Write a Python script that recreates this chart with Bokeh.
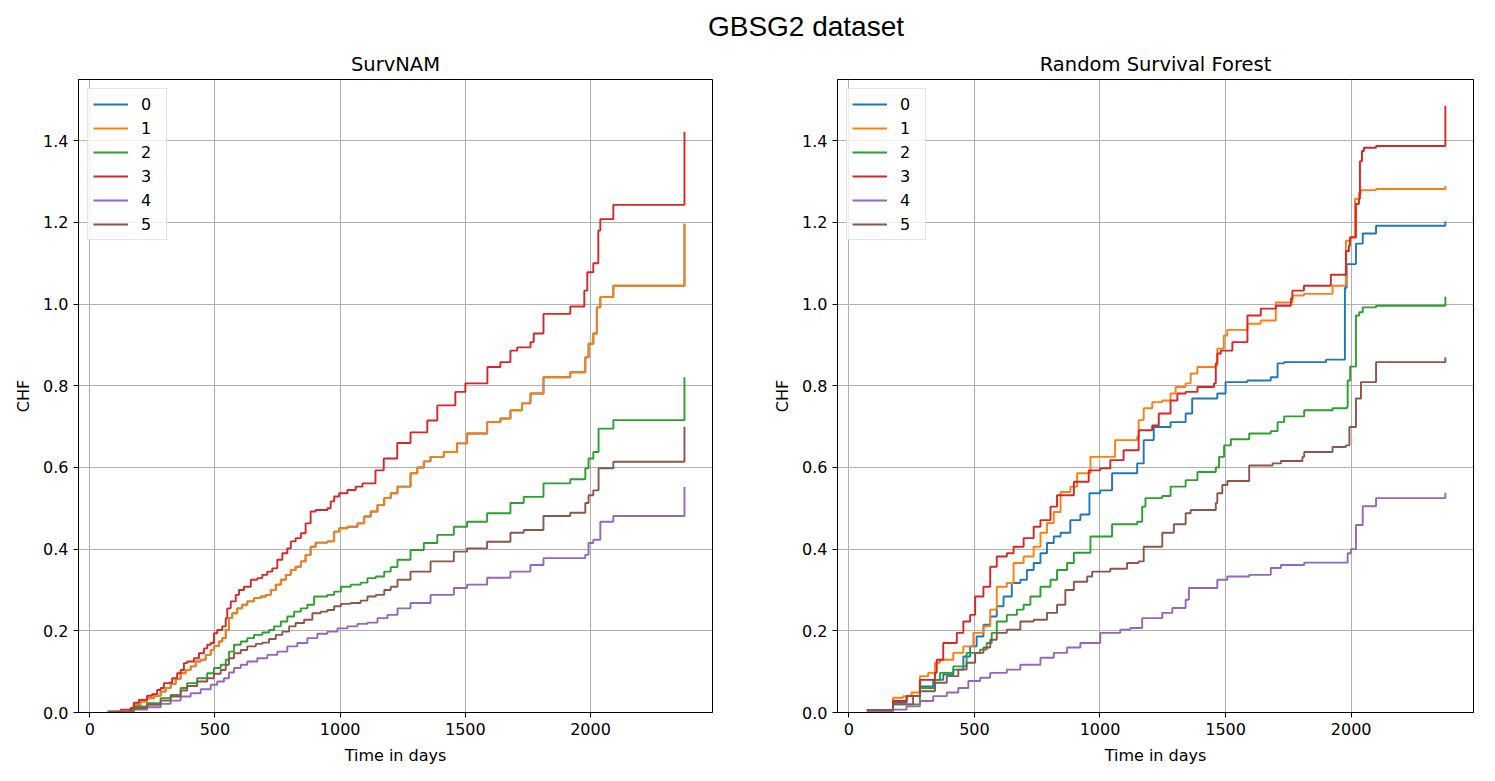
from bokeh.plotting import figure
from bokeh.models import Range1d, FixedTicker, NumeralTickFormatter, Div, Legend, LegendItem
from bokeh.layouts import column, row
from bokeh.embed import file_html
from bokeh.resources import INLINE

# ---------------- data ----------------
labels = ["0", "1", "2", "3", "4", "5"]
colors = ["#1f77b4", "#ff7f0e", "#2ca02c", "#d62728", "#9467bd", "#8c564b"]
x_ticks = [0, 500, 1000, 1500, 2000]
y_ticks = [0.0, 0.2, 0.4, 0.6, 0.8, 1.0, 1.2, 1.4]

# SurvNAM (series 0 lies exactly under series 1)
nam_t_1 = [72, 163, 176, 203, 229, 256, 283, 303, 323, 343, 363, 383, 403, 423, 443, 463, 483, 496, 516, 529,
           543, 556, 569, 589, 609, 629, 656, 683, 703, 723, 743, 763, 783, 803, 822, 843, 862, 882, 902, 949,
           976, 996, 1029, 1069, 1096, 1122, 1149, 1176, 1202, 1229,
           1281, 1308, 1334, 1361, 1414, 1467, 1507, 1587, 1640, 1680, 1726, 1760, 1812, 1919, 1979, 1992, 2011,
           2025, 2039, 2091, 2375]
nam_chf_1 = [0.002, 0.008, 0.019, 0.027, 0.035, 0.041, 0.051, 0.06, 0.07, 0.082, 0.096, 0.104, 0.113, 0.125, 0.129,
             0.141, 0.153, 0.163, 0.174, 0.182, 0.202, 0.231, 0.243, 0.255, 0.264, 0.272, 0.28, 0.284, 0.288, 0.30,
             0.313, 0.325, 0.337, 0.349, 0.357, 0.37, 0.386, 0.406, 0.416, 0.419, 0.443, 0.451, 0.455, 0.463, 0.48,
             0.492, 0.508, 0.525, 0.537, 0.553,
             0.586, 0.60, 0.615, 0.626, 0.638, 0.659, 0.683, 0.711, 0.72, 0.74, 0.757, 0.781, 0.821, 0.833, 0.87,
             0.903, 0.928, 0.992, 1.017, 1.045, 1.197]
nam_t_0 = list(nam_t_1)
nam_chf_0 = list(nam_chf_1)
nam_t_2 = [72, 163, 176, 229, 283, 323, 363, 389, 429, 469, 496, 523, 543, 556, 576, 603, 629, 656, 689, 716,
           736, 763, 789, 816, 843, 869, 896, 949, 976, 1003, 1042, 1082, 1109, 1142, 1176, 1202, 1229,
           1281, 1334, 1388, 1454, 1507, 1587, 1680, 1733, 1812, 1919, 1979, 1992, 2011, 2032, 2091, 2375]
nam_chf_2 = [0.002, 0.007, 0.015, 0.023, 0.035, 0.043, 0.06, 0.072, 0.084, 0.096, 0.109, 0.117, 0.129, 0.149, 0.166,
             0.174, 0.182, 0.19, 0.196, 0.202, 0.211, 0.223, 0.235, 0.247, 0.255, 0.264, 0.284, 0.288, 0.296, 0.308,
             0.313, 0.318, 0.329, 0.333, 0.345, 0.356, 0.374,
             0.398, 0.415, 0.435, 0.455, 0.467, 0.488, 0.513, 0.528, 0.561, 0.571, 0.598, 0.622, 0.638, 0.695,
             0.716, 0.821]
nam_t_3 = [72, 123, 163, 176, 196, 229, 249, 269, 283, 296, 316, 329, 349, 363, 376, 389, 416, 436, 456, 469,
           483, 496, 509, 529, 543, 549, 563, 583, 596, 616, 643, 669, 689, 709, 729, 749, 769, 789, 803, 822,
           843, 862, 882, 902, 949, 962, 976, 996, 1029, 1062, 1089,
           1141, 1174, 1228, 1281, 1348, 1388, 1460, 1500, 1588, 1640, 1680, 1707, 1760, 1773, 1812, 1919, 1975,
           1987, 2011, 2031, 2039, 2091, 2375]
nam_chf_3 = [0.002, 0.007, 0.011, 0.024, 0.031, 0.041, 0.045, 0.055, 0.06, 0.072, 0.073, 0.084, 0.096, 0.104, 0.121,
             0.125, 0.133, 0.145, 0.157, 0.166, 0.17, 0.194, 0.202, 0.211, 0.231, 0.255, 0.272, 0.288, 0.30, 0.308,
             0.325, 0.329, 0.337, 0.345, 0.353, 0.374, 0.39, 0.402, 0.419, 0.427, 0.439, 0.463, 0.492, 0.496, 0.50,
             0.517, 0.529, 0.537, 0.545, 0.553, 0.561,
             0.593, 0.622, 0.66, 0.686, 0.715, 0.752, 0.785, 0.806, 0.846, 0.858, 0.886, 0.894, 0.907, 0.928, 0.976,
             0.994, 1.033, 1.078, 1.10, 1.18, 1.208, 1.243, 1.422]
nam_t_4 = [72, 163, 176, 229, 283, 323, 363, 403, 443, 483, 509, 536, 556, 576, 603, 629, 669, 709, 749, 789,
           829, 869, 909, 949, 989, 1029, 1069, 1109, 1149, 1189, 1229,
           1281, 1361, 1454, 1507, 1587, 1680, 1760, 1812, 1979, 1992, 2011, 2039, 2091, 2375]
nam_chf_4 = [0.0, 0.002, 0.007, 0.013, 0.021, 0.029, 0.039, 0.047, 0.057, 0.068, 0.076, 0.084, 0.098, 0.109, 0.117,
             0.125, 0.133, 0.141, 0.149, 0.162, 0.17, 0.182, 0.193, 0.198, 0.206, 0.211, 0.217, 0.22, 0.231, 0.239,
             0.255,
             0.268, 0.288, 0.305, 0.313, 0.33, 0.345, 0.361, 0.378, 0.386, 0.415, 0.423, 0.467, 0.481, 0.552]
nam_t_5 = [72, 163, 176, 229, 283, 323, 363, 389, 429, 469, 496, 523, 543, 556, 576, 603, 629, 663, 689, 716,
           743, 769, 796, 822, 856, 889, 922, 949, 976, 1003, 1042, 1082, 1109, 1142, 1176, 1202, 1229,
           1281, 1361, 1454, 1507, 1587, 1680, 1733, 1812, 1919, 1979, 1992, 2011, 2032, 2091, 2375]
nam_chf_5 = [0.001, 0.005, 0.011, 0.019, 0.029, 0.039, 0.054, 0.065, 0.076, 0.084, 0.095, 0.104, 0.117, 0.133, 0.145,
             0.153, 0.162, 0.168, 0.171, 0.18, 0.19, 0.198, 0.211, 0.219, 0.227, 0.243, 0.247, 0.251, 0.26, 0.266,
             0.268, 0.274, 0.284, 0.288, 0.30, 0.308, 0.325,
             0.345, 0.37, 0.394, 0.402, 0.418, 0.44, 0.447, 0.481, 0.489, 0.513, 0.532, 0.544, 0.598, 0.614, 0.70]

# Random Survival Forest
rsf_t_0 = [72, 176, 230, 283, 336, 376, 416, 456, 483, 509, 536, 563, 589, 616, 649, 683, 709, 736, 763, 789,
           816, 843, 882, 922, 958, 1001, 1048, 1148, 1174, 1214, 1281, 1341, 1367, 1467, 1500, 1587, 1680, 1707, 1733,
           1900, 1975, 1982, 2019, 2046, 2099, 2375]
rsf_chf_0 = [0.006, 0.024, 0.04, 0.064, 0.08, 0.093, 0.105, 0.137, 0.162, 0.186, 0.215, 0.235, 0.26, 0.284, 0.317,
             0.325, 0.349, 0.366, 0.39, 0.415, 0.431, 0.44, 0.471, 0.485, 0.537, 0.544, 0.586, 0.61, 0.667, 0.699,
             0.711, 0.732, 0.769, 0.781, 0.809, 0.813, 0.821, 0.855, 0.858, 0.864, 1.04, 1.098, 1.148, 1.173, 1.192,
             1.202]
rsf_t_1 = [72, 176, 216, 250, 283, 316, 343, 363, 416, 456, 496, 536, 563, 589, 629, 656, 696, 736, 763, 789,
           816, 843, 882, 909, 962, 1060, 1148, 1154, 1174, 1208, 1248, 1281, 1301, 1341, 1361, 1388, 1461, 1467, 1493,
           1507, 1587, 1640, 1700, 1766, 1812, 1926, 1979, 1999, 2015, 2031, 2039, 2099, 2375]
rsf_chf_1 = [0.006, 0.036, 0.04, 0.049, 0.089, 0.097, 0.122, 0.129, 0.146, 0.162, 0.195, 0.211, 0.252, 0.308, 0.317,
             0.366, 0.382, 0.406, 0.44, 0.464, 0.491, 0.54, 0.553, 0.586, 0.626, 0.667, 0.675, 0.716, 0.745, 0.76,
             0.764, 0.781, 0.797, 0.806, 0.83, 0.846, 0.85, 0.891, 0.923, 0.937, 0.952, 0.96, 1.004, 1.021, 1.025,
             1.045, 1.155, 1.165, 1.258, 1.273, 1.279, 1.282, 1.289]
rsf_t_2 = [72, 176, 283, 343, 363, 416, 469, 523, 549, 569, 589, 629, 669, 696, 723, 763, 803, 829, 869, 896,
           962, 1048, 1148, 1168, 1181, 1248, 1281, 1341, 1388, 1461, 1474, 1494, 1521, 1594, 1680, 1707, 1733, 1813,
           1926, 1983, 1986, 1996, 2019, 2032, 2046, 2099, 2375]
rsf_chf_2 = [0.006, 0.02, 0.06, 0.08, 0.097, 0.113, 0.146, 0.154, 0.17, 0.195, 0.223, 0.239, 0.252, 0.264, 0.284,
             0.308, 0.325, 0.349, 0.366, 0.391, 0.431, 0.461, 0.467, 0.504, 0.525, 0.53, 0.553, 0.569, 0.589, 0.60,
             0.626, 0.654, 0.669, 0.683, 0.689, 0.711, 0.725, 0.74, 0.745, 0.748, 0.813, 0.847, 0.972, 0.98, 0.992,
             0.996, 1.018]
rsf_t_3 = [72, 176, 230, 283, 343, 350, 376, 430, 456, 483, 503, 536, 563, 589, 629, 656, 696, 736, 763, 803,
           829, 896, 955, 1001, 1041, 1094, 1154, 1208, 1234, 1281, 1308, 1341, 1388, 1454, 1461, 1467, 1481, 1527,
           1587, 1640, 1700, 1760, 1766, 1812, 1919, 1979, 1991, 1995, 2019, 2031, 2035, 2043, 2051, 2099, 2375]
rsf_chf_3 = [0.006, 0.028, 0.04, 0.08, 0.097, 0.129, 0.17, 0.195, 0.223, 0.239, 0.284, 0.308, 0.357, 0.382, 0.39,
             0.406, 0.427, 0.455, 0.471, 0.504, 0.532, 0.565, 0.593, 0.598, 0.618, 0.642, 0.691, 0.703, 0.732, 0.764,
             0.781, 0.785, 0.797, 0.806, 0.855, 0.879, 0.886, 0.907, 0.972, 0.989, 0.996, 1.013, 1.033, 1.045, 1.072,
             1.13, 1.143, 1.163, 1.245, 1.258, 1.35, 1.375, 1.383, 1.387, 1.485]
rsf_t_4 = [72, 176, 230, 283, 336, 390, 436, 476, 523, 563, 629, 683, 763, 816, 869, 922, 1001, 1081, 1121, 1168,
           1248, 1288, 1341, 1354, 1467, 1507, 1594, 1680, 1720, 1813, 1986, 1999, 2019, 2046, 2099, 2375]
rsf_chf_4 = [0.003, 0.007, 0.015, 0.028, 0.04, 0.049, 0.06, 0.077, 0.085, 0.097, 0.105, 0.117, 0.134, 0.146, 0.159,
             0.17, 0.195, 0.203, 0.207, 0.231, 0.244, 0.256, 0.276, 0.305, 0.325, 0.333, 0.337, 0.354, 0.361, 0.367,
             0.39, 0.40, 0.459, 0.505, 0.525, 0.538]
rsf_t_5 = [72, 176, 256, 283, 343, 390, 436, 469, 503, 536, 563, 589, 629, 683, 736, 789, 829, 862, 896, 949,
           969, 1041, 1108, 1154, 1174, 1248, 1294, 1341, 1361, 1461, 1467, 1487, 1507, 1594, 1687, 1720, 1806, 1813,
           1926, 1979, 1993, 2019, 2039, 2099, 2375]
rsf_chf_5 = [0.006, 0.02, 0.04, 0.052, 0.073, 0.089, 0.105, 0.122, 0.146, 0.159, 0.178, 0.195, 0.203, 0.223, 0.227,
             0.244, 0.264, 0.30, 0.32, 0.333, 0.345, 0.352, 0.366, 0.37, 0.406, 0.44, 0.461, 0.488, 0.496, 0.513,
             0.537, 0.557, 0.567, 0.605, 0.61, 0.616, 0.626, 0.638, 0.65, 0.654, 0.699, 0.769, 0.809, 0.858, 0.87]

nam_series = [(nam_t_0, nam_chf_0), (nam_t_1, nam_chf_1), (nam_t_2, nam_chf_2),
              (nam_t_3, nam_chf_3), (nam_t_4, nam_chf_4), (nam_t_5, nam_chf_5)]
rsf_series = [(rsf_t_0, rsf_chf_0), (rsf_t_1, rsf_chf_1), (rsf_t_2, rsf_chf_2),
              (rsf_t_3, rsf_chf_3), (rsf_t_4, rsf_chf_4), (rsf_t_5, rsf_chf_5)]
for t, c in nam_series + rsf_series:
    assert len(t) == len(c), (len(t), len(c))

FONT = "DejaVu Sans"


def make(title, series, frame_w, mbl, mbr):
    p = figure(frame_width=frame_w, frame_height=633,
               x_range=Range1d(-45, 2487), y_range=Range1d(0, 1.55),
               output_backend="svg", toolbar_location=None,
               min_border_left=mbl, min_border_right=mbr,
               min_border_top=35, min_border_bottom=55)
    p.title.text = title
    p.title.align = "center"
    p.title.text_font = FONT
    p.title.text_font_size = "19.5px"
    p.title.text_font_style = "normal"
    p.title.text_color = "black"
    p.title.standoff = 7

    p.outline_line_color = "black"
    p.outline_line_width = 1
    p.outline_line_alpha = 1

    for g in (p.xgrid, p.ygrid):
        g.grid_line_color = "#b0b0b0"
        g.grid_line_width = 1.1

    p.xaxis.ticker = FixedTicker(ticks=x_ticks)
    p.yaxis.ticker = FixedTicker(ticks=y_ticks)
    p.yaxis.formatter = NumeralTickFormatter(format="0.0")
    p.xaxis.axis_label = "Time in days"
    p.yaxis.axis_label = "CHF"
    for ax in (p.xaxis, p.yaxis):
        ax.axis_line_color = "black"
        ax.major_tick_line_color = "black"
        ax.major_tick_out = 5
        ax.major_tick_in = 0
        ax.minor_tick_line_color = None
        ax.major_label_text_font = FONT
        ax.major_label_text_font_size = "16px"
        ax.major_label_text_color = "black"
        ax.axis_label_text_font = FONT
        ax.axis_label_text_font_size = "16px"
        ax.axis_label_text_font_style = "normal"
        ax.axis_label_text_color = "black"
        ax.major_label_standoff = 5
    p.xaxis.axis_label_standoff = 8
    p.yaxis.axis_label_standoff = 7

    items = []
    for lab, col, (t, c) in zip(labels, colors, series):
        r = p.step(t, c, mode="after", line_color=col, line_width=1.9)
        items.append(LegendItem(label=lab, renderers=[r]))
    leg = Legend(items=items, location="top_left", margin=9, padding=5, spacing=4,
                 glyph_width=35, glyph_height=20, label_height=20, label_standoff=13,
                 label_text_font=FONT, label_text_font_size="16px", label_text_color="black",
                 border_line_color="#cccccc", border_line_width=1,
                 background_fill_color="white", background_fill_alpha=0.8)
    p.add_layout(leg)
    return p


p1 = make("SurvNAM", nam_series, 634, 78, 55)
p2 = make("Random Survival Forest", rsf_series, 636, 70, 14)

head = Div(text='<div style="width:400px; margin-left:606px; padding-top:9px; text-align:center; '
                'font-family:\'Liberation Sans\', Arial, sans-serif; font-size:28px; '
                'line-height:35px; color:black; white-space:nowrap;">GBSG2 dataset</div>',
           width=1487, height=44, margin=0)

layout = column(head, row(p1, p2))

with open("out.html", "w") as f:
    f.write(file_html(layout, INLINE, title="GBSG2 dataset"))
